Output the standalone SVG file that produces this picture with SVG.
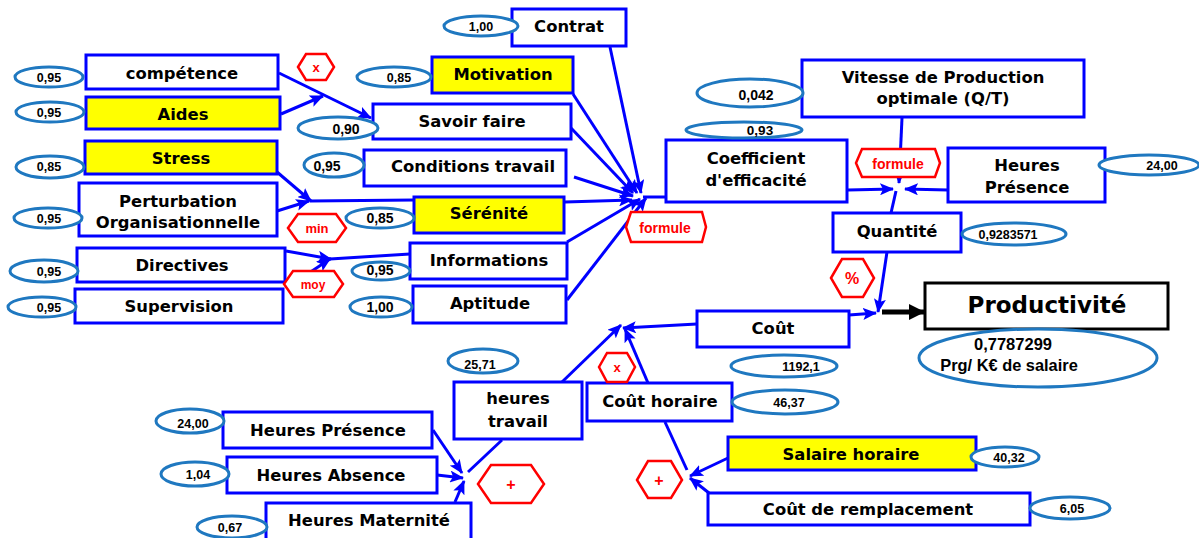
<svg xmlns="http://www.w3.org/2000/svg" width="1199" height="538" viewBox="0 0 1199 538">
<style>
.b{fill:#fff;stroke:#0000ff;stroke-width:3}
.y{fill:#ffff00;stroke:#0000ff;stroke-width:3}
.k{fill:#fff;stroke:#000;stroke-width:3}
.t{font-family:"DejaVu Sans",Verdana,sans-serif;font-weight:bold;font-size:16.4px;fill:#000;text-anchor:middle}
.e{fill:#fff;stroke:#1f78c0;stroke-width:3}
.n{font-family:"Liberation Sans",Arial,sans-serif;font-weight:bold;font-size:12.5px;fill:#000;text-anchor:middle}
.h{fill:#fff;stroke:#ff0000;stroke-width:2.5}
.r{font-family:"Liberation Sans",Arial,sans-serif;font-weight:bold;font-size:13px;fill:#ff0000;text-anchor:middle}
.c{stroke:#0000ff;stroke-width:3;fill:none}
.ca{stroke:#0000ff;stroke-width:3;fill:none;marker-end:url(#ah)}
</style>
<defs>
<marker id="ah" markerUnits="userSpaceOnUse" markerWidth="14" markerHeight="12" viewBox="0 0 14 12" refX="13" refY="6" orient="auto">
<path d="M0,0 L14,6 L0,12 L3,6 Z" fill="#0000ff"/>
</marker>
<marker id="bk" markerUnits="userSpaceOnUse" markerWidth="16" markerHeight="16" viewBox="0 0 16 16" refX="15" refY="8" orient="auto">
<path d="M0,0 L16,8 L0,16 Z" fill="#000"/>
</marker>
</defs>

<g id="connectors">
<line class="ca" x1="279" y1="73" x2="371" y2="118"/>
<line class="ca" x1="281" y1="114" x2="323" y2="96"/>
<line class="ca" x1="277" y1="172" x2="311" y2="201"/>
<line class="ca" x1="277" y1="211" x2="309" y2="201"/>
<line class="c" x1="310" y1="201" x2="414" y2="200"/>
<line class="ca" x1="286" y1="251" x2="331" y2="259"/>
<line class="ca" x1="306" y1="275" x2="330" y2="259"/>
<line class="c" x1="330" y1="259" x2="410" y2="254"/>
<line class="ca" x1="610" y1="47" x2="641" y2="193"/>
<line class="ca" x1="573" y1="94" x2="637" y2="193"/>
<line class="ca" x1="571" y1="128" x2="633" y2="193"/>
<line class="ca" x1="574" y1="177" x2="633" y2="196"/>
<line class="ca" x1="565" y1="202" x2="632" y2="200"/>
<line class="ca" x1="567" y1="242" x2="640" y2="199"/>
<line class="ca" x1="567" y1="300" x2="646" y2="198"/>
<line class="c" x1="643" y1="197" x2="666" y2="197"/>
<line class="ca" x1="848" y1="190" x2="893" y2="189"/>
<line class="ca" x1="948" y1="190" x2="905" y2="189"/>
<line class="ca" x1="902" y1="118" x2="899" y2="183"/>
<line class="c" x1="891" y1="213" x2="896" y2="191"/>
<line class="ca" x1="887" y1="252" x2="878" y2="312"/>
<line class="ca" x1="849" y1="315" x2="876" y2="313"/>
<line x1="882" y1="312" x2="924" y2="312" stroke="#000" stroke-width="5" marker-end="url(#bk)"/>
<line class="ca" x1="697" y1="324" x2="623" y2="328"/>
<line class="ca" x1="562" y1="382" x2="621" y2="325"/>
<line class="ca" x1="648" y1="383" x2="625" y2="329"/>
<line class="ca" x1="433" y1="430" x2="462" y2="473"/>
<line class="ca" x1="437" y1="475" x2="463" y2="478"/>
<line class="ca" x1="455" y1="502" x2="464" y2="481"/>
<line class="c" x1="502" y1="440" x2="468" y2="472"/>
<line class="c" x1="665" y1="422" x2="687" y2="470"/>
<line class="ca" x1="728" y1="458" x2="690" y2="476"/>
<line class="ca" x1="709" y1="493" x2="690" y2="478"/>
</g>

<g id="n-competence"><rect class="b" x="86" y="55" width="192" height="34"/><text class="t" x="182" y="79">compétence</text></g>
<g id="n-aides"><rect class="y" x="86" y="97" width="194" height="32"/><text class="t" x="183" y="120">Aides</text></g>
<g id="n-stress"><rect class="y" x="85" y="141" width="192" height="33"/><text class="t" x="181" y="164">Stress</text></g>
<g id="n-perturbation"><rect class="b" x="79" y="183" width="198" height="53"/><text class="t" x="178" y="207">Perturbation</text><text class="t" x="178" y="228">Organisationnelle</text></g>
<g id="n-directives"><rect class="b" x="77" y="248" width="208" height="34"/><text class="t" x="182" y="271">Directives</text></g>
<g id="n-supervision"><rect class="b" x="75" y="289" width="208" height="34"/><text class="t" x="179" y="312">Supervision</text></g>
<g id="n-contrat"><rect class="b" x="512" y="9" width="114" height="37"/><text class="t" x="569" y="32">Contrat</text></g>
<g id="n-motivation"><rect class="y" x="432" y="57" width="141" height="36"/><text class="t" x="503" y="80">Motivation</text></g>
<g id="n-savoir"><rect class="b" x="373" y="104" width="198" height="35"/><text class="t" x="472" y="127">Savoir faire</text></g>
<g id="n-conditions"><rect class="b" x="364" y="150" width="202" height="36"/><text class="t" x="473" y="172">Conditions travail</text></g>
<g id="n-serenite"><rect class="y" x="414" y="197" width="150" height="36"/><text class="t" x="489" y="219">Sérénité</text></g>
<g id="n-informations"><rect class="b" x="410" y="243" width="157" height="36"/><text class="t" x="489" y="266">Informations</text></g>
<g id="n-aptitude"><rect class="b" x="413" y="286" width="153" height="37"/><text class="t" x="490" y="309">Aptitude</text></g>
<g id="n-coefficient"><rect class="b" x="666" y="140" width="181" height="62"/><text class="t" x="756" y="164">Coefficient</text><text class="t" x="756" y="186">d'efficacité</text></g>
<g id="n-vitesse"><rect class="b" x="802" y="60" width="282" height="57"/><text class="t" x="943" y="83">Vitesse de Production</text><text class="t" x="943" y="104">optimale (Q/T)</text></g>
<g id="n-heures-presence-r"><rect class="b" x="948" y="148" width="157" height="54"/><text class="t" x="1027" y="171">Heures</text><text class="t" x="1027" y="193">Présence</text></g>
<g id="n-quantite"><rect class="b" x="833" y="213" width="128" height="39"/><text class="t" x="897" y="237">Quantité</text></g>
<g id="n-productivite"><rect class="k" x="925" y="283" width="243" height="46"/><text class="t" x="1047" y="313" style="font-size:23px">Productivité</text></g>
<g id="n-cout"><rect class="b" x="697" y="311" width="152" height="36"/><text class="t" x="773" y="334">Coût</text></g>
<g id="n-cout-horaire"><rect class="b" x="587" y="383" width="145" height="38"/><text class="t" x="660" y="407">Coût horaire</text></g>
<g id="n-heures-travail"><rect class="b" x="454" y="382" width="128" height="57"/><text class="t" x="518" y="404">heures</text><text class="t" x="518" y="427">travail</text></g>
<g id="n-heures-presence"><rect class="b" x="223" y="412" width="209" height="36"/><text class="t" x="328" y="436">Heures Présence</text></g>
<g id="n-heures-absence"><rect class="b" x="227" y="457" width="210" height="36"/><text class="t" x="331" y="481">Heures Absence</text></g>
<g id="n-heures-maternite"><rect class="b" x="266" y="503" width="205" height="40"/><text class="t" x="369" y="526">Heures Maternité</text></g>
<g id="n-salaire"><rect class="y" x="728" y="437" width="248" height="33"/><text class="t" x="851" y="460">Salaire horaire</text></g>
<g id="n-remplacement"><rect class="b" x="708" y="493" width="322" height="32"/><text class="t" x="868" y="515">Coût de remplacement</text></g>

<g id="values">
<ellipse class="e" cx="49" cy="77" rx="34" ry="10"/><text class="n" x="49" y="82">0,95</text>
<ellipse class="e" cx="50" cy="112" rx="34" ry="10"/><text class="n" x="49" y="117">0,95</text>
<ellipse class="e" cx="50" cy="167" rx="34" ry="11"/><text class="n" x="49" y="171">0,85</text>
<ellipse class="e" cx="48" cy="218" rx="34" ry="10"/><text class="n" x="49" y="223">0,95</text>
<ellipse class="e" cx="44" cy="271" rx="34" ry="11"/><text class="n" x="49" y="276">0,95</text>
<ellipse class="e" cx="42" cy="307" rx="34" ry="10"/><text class="n" x="49" y="312">0,95</text>
<ellipse class="e" cx="338" cy="128" rx="40" ry="11"/><text class="n" x="346" y="134" style="font-size:14px">0,90</text>
<ellipse class="e" cx="334" cy="165" rx="30" ry="12"/><text class="n" x="327" y="171" style="font-size:14px">0,95</text>
<ellipse class="e" cx="394" cy="77" rx="37" ry="10"/><text class="n" x="399" y="82">0,85</text>
<ellipse class="e" cx="481" cy="26" rx="37" ry="10"/><text class="n" x="481" y="31">1,00</text>
<ellipse class="e" cx="380" cy="218" rx="34" ry="10"/><text class="n" x="380" y="223" style="font-size:14px">0,85</text>
<ellipse class="e" cx="381" cy="271" rx="29" ry="9"/><text class="n" x="380" y="275" style="font-size:14px">0,95</text>
<ellipse class="e" cx="381" cy="307" rx="31" ry="10"/><text class="n" x="380" y="312" style="font-size:14px">1,00</text>
<ellipse class="e" cx="750" cy="93" rx="53" ry="14"/><text class="n" x="756" y="100" style="font-size:14px">0,042</text>
<ellipse class="e" cx="744" cy="130" rx="58" ry="8"/><text class="n" x="760" y="135" style="font-size:13.5px">0,93</text>
<ellipse class="e" cx="1149" cy="165" rx="50" ry="10"/><text class="n" x="1162" y="170">24,00</text>
<ellipse class="e" cx="1014" cy="234" rx="52" ry="11"/><text class="n" x="1008" y="239">0,9283571</text>
<ellipse class="e" cx="1038" cy="358" rx="119" ry="29"/>
<text class="n" x="1013" y="350" style="font-size:16.5px">0,7787299</text>
<text class="n" x="1009" y="371" style="font-size:16.4px">Prg/ K€ de salaire</text>
<ellipse class="e" cx="784" cy="366" rx="53" ry="11"/><text class="n" x="801" y="371">1192,1</text>
<ellipse class="e" cx="785" cy="402" rx="53" ry="12"/><text class="n" x="789" y="407">46,37</text>
<ellipse class="e" cx="483" cy="361" rx="35" ry="12"/><text class="n" x="480" y="369">25,71</text>
<ellipse class="e" cx="190" cy="421" rx="34" ry="12"/><text class="n" x="193" y="428">24,00</text>
<ellipse class="e" cx="195" cy="474" rx="34" ry="12"/><text class="n" x="198" y="479">1,04</text>
<ellipse class="e" cx="232" cy="527" rx="35" ry="11"/><text class="n" x="230" y="532">0,67</text>
<ellipse class="e" cx="1005" cy="457" rx="34" ry="10"/><text class="n" x="1009" y="462">40,32</text>
<ellipse class="e" cx="1070" cy="508" rx="40" ry="11"/><text class="n" x="1072" y="513">6,05</text>
</g>

<g id="operators">
<polygon class="h" points="298,67 306,54 326,54 334,67 326,80 306,80"/><text class="r" x="316" y="72">x</text>
<polygon class="h" points="288,228 298,214 336,214 346,228 336,242 298,242"/><text class="r" x="317" y="233">min</text>
<polygon class="h" points="284,284 293,271 334,271 343,284 334,297 293,297"/><text class="r" x="313" y="289" style="font-size:12px">moy</text>
<polygon class="h" points="626,227 631,212 702,212 706,227 702,242 631,242"/><text class="r" x="665" y="233" style="font-size:14px">formule</text>
<polygon class="h" points="856,163 862,149 935,149 940,163 935,177 862,177"/><text class="r" x="898" y="169" style="font-size:14px">formule</text>
<polygon class="h" points="831,278 842,259 863,259 874,278 863,297 842,297"/><text class="r" x="852" y="284" style="font-size:16px">%</text>
<polygon class="h" points="599,367 607,353 627,353 635,367 627,382 607,382"/><text class="r" x="617" y="372">x</text>
<polygon class="h" points="478,484 491,465 531,465 544,484 531,503 491,503"/><text class="r" x="511" y="490" style="font-size:16px">+</text>
<polygon class="h" points="637,480 648,461 671,461 682,480 671,498 648,498"/><text class="r" x="659" y="486" style="font-size:16px">+</text>
</g>
</svg>
